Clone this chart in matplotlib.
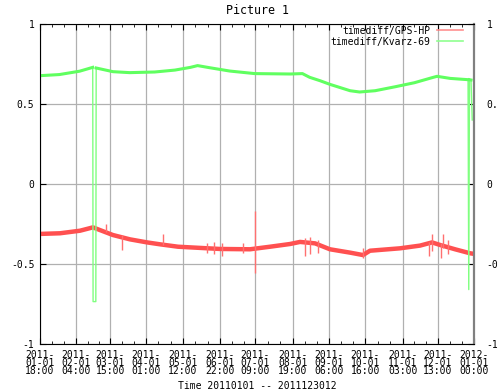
import matplotlib
matplotlib.use('Agg')
import matplotlib.pyplot as plt
from matplotlib.lines import Line2D

# x values are days since 2011-01-01 00:00
tick_days = [0.75, 31.167, 59.625, 90.042, 120.5, 151.917, 181.375,
             212.792, 243.25, 273.667, 305.125, 334.542, 365.0]
tick_labels = ['2011-\n01-01\n18:00', '2011-\n02-01\n04:00', '2011-\n03-01\n15:00',
               '2011-\n04-01\n01:00', '2011-\n05-01\n12:00', '2011-\n06-01\n22:00',
               '2011-\n07-01\n09:00', '2011-\n08-01\n19:00', '2011-\n09-01\n06:00',
               '2011-\n10-01\n16:00', '2011-\n11-01\n03:00', '2011-\n12-01\n13:00',
               '2012-\n01-01\n00:00']

# timediff/GPS-HP
gps_day = [0.75, 17.5, 34.3, 45.2, 51.1, 62.0, 76.3, 90.6, 101.5, 116.6, 126.6,
           151.8, 177.0, 193.8, 210.6, 219.0, 231.6, 244.1, 261.0, 271.8, 277.7,
           302.9, 319.7, 329.8, 336.5, 349.1, 361.7, 363.5]
gps_val = [-0.312, -0.308, -0.292, -0.271, -0.288, -0.319, -0.346, -0.365, -0.377,
           -0.392, -0.396, -0.406, -0.408, -0.392, -0.375, -0.362, -0.371, -0.408,
           -0.429, -0.444, -0.417, -0.402, -0.385, -0.365, -0.381, -0.408, -0.433,
           -0.435]
# noise spikes of GPS-HP: day, low, high
spike_day = [56.1, 69.6, 104.0, 140.9, 146.8, 153.5, 171.1, 181.2, 223.2, 227.4,
             234.1, 271.8, 327.2, 329.8, 337.3, 339.0, 343.2]
spike_lo = [-0.30, -0.41, -0.38, -0.43, -0.44, -0.45, -0.43, -0.555, -0.45, -0.44,
            -0.43, -0.46, -0.45, -0.42, -0.46, -0.40, -0.44]
spike_hi = [-0.25, -0.32, -0.31, -0.37, -0.36, -0.37, -0.37, -0.17, -0.34, -0.33,
            -0.35, -0.40, -0.36, -0.31, -0.37, -0.315, -0.35]

# timediff/Kvarz-69
kv_day = [0.75, 17.0, 34.0, 45.0, 45.3, 47.6, 47.9, 62.0, 76.0, 97.0, 114.0, 127.0,
          133.0, 143.0, 160.0, 181.0, 211.0, 221.0, 227.0, 236.0, 244.0, 261.0,
          269.0, 282.0, 299.0, 315.0, 330.0, 334.0, 345.0, 360.0, 360.6, 361.2,
          362.5, 363.5]
kv_val = [0.677, 0.684, 0.705, 0.729, -0.735, -0.735, 0.725, 0.702, 0.696, 0.70,
          0.712, 0.729, 0.74, 0.727, 0.706, 0.69, 0.6875, 0.69, 0.667, 0.645, 0.623,
          0.583, 0.575, 0.583, 0.608, 0.633, 0.665, 0.673, 0.66, 0.652, -0.66,
          0.652, 0.65, 0.40]

red = '#ff5050'
green = '#60ff60'

plt.rcParams['font.family'] = 'DejaVu Sans Mono'
plt.rcParams['font.size'] = 7

fig = plt.figure(figsize=(4.98, 3.91), dpi=100)
ax = fig.add_axes([40/498, 47/391, 434/498, 320/391])

ax.plot(gps_day, gps_val, color=red, lw=3.2)
ax.vlines(spike_day, spike_lo, spike_hi, color='#ff7070', lw=1)
# thin line for the whole series (the jumps are drawn thin), thick for the smooth parts
ax.plot(kv_day, kv_val, color='#80ff80', lw=1)
ax.plot(kv_day[:4], kv_val[:4], color=green, lw=2.2)
ax.plot(kv_day[6:30], kv_val[6:30], color=green, lw=2.2)
ax.plot(kv_day[31:33], kv_val[31:33], color=green, lw=2.2)

ax.set_xlim(tick_days[0], tick_days[-1])
ax.set_ylim(-1, 1)
ax.set_xticks(tick_days)
ax.set_xticklabels(tick_labels, linespacing=0.8)
minor = []
for a, b in zip(tick_days[:-1], tick_days[1:]):
    minor += [a + (b - a) / 3, a + 2 * (b - a) / 3]
ax.set_xticks(minor, minor=True)
ax.set_yticks([-1, -0.5, 0, 0.5, 1])
ax.set_yticklabels(['-1', '-0.5', '0', '0.5', '1'])

ax.grid(True, which='major', color='#b0b0b0', lw=0.9)
ax.tick_params(which='both', direction='in', top=True, right=True, color='k')
ax.tick_params(which='major', length=4, pad=4)
ax.tick_params(which='minor', length=2.5)
ax.tick_params(axis='y', pad=4)
for s in ['left', 'top', 'bottom']:
    ax.spines[s].set_color('k')
ax.spines['right'].set_color('#808080')
ax.spines['right'].set_linewidth(1.6)

sec = ax.secondary_yaxis('right')
sec.set_yticks([-1, -0.5, 0, 0.5, 1])
sec.set_yticklabels(['-1', '-0.5', '0', '0.5', '1'])
sec.tick_params(direction='in', length=0, pad=9)
sec.spines['right'].set_visible(False)

ax.set_title('Picture 1', pad=7)
ax.set_xlabel('Time 20110101 -- 2011123012', labelpad=3)

handles = [Line2D([], [], color='#ff9090', lw=1.2), Line2D([], [], color='#90ff90', lw=1.2)]
ax.legend(handles, ['timediff/GPS-HP', 'timediff/Kvarz-69'], loc='upper right',
          bbox_to_anchor=(0.975, 0.995), frameon=False, markerfirst=False,
          handlelength=2.7, handletextpad=0.7, labelspacing=0.1,
          borderpad=0, borderaxespad=0)

fig.savefig('out.png', dpi=100)
